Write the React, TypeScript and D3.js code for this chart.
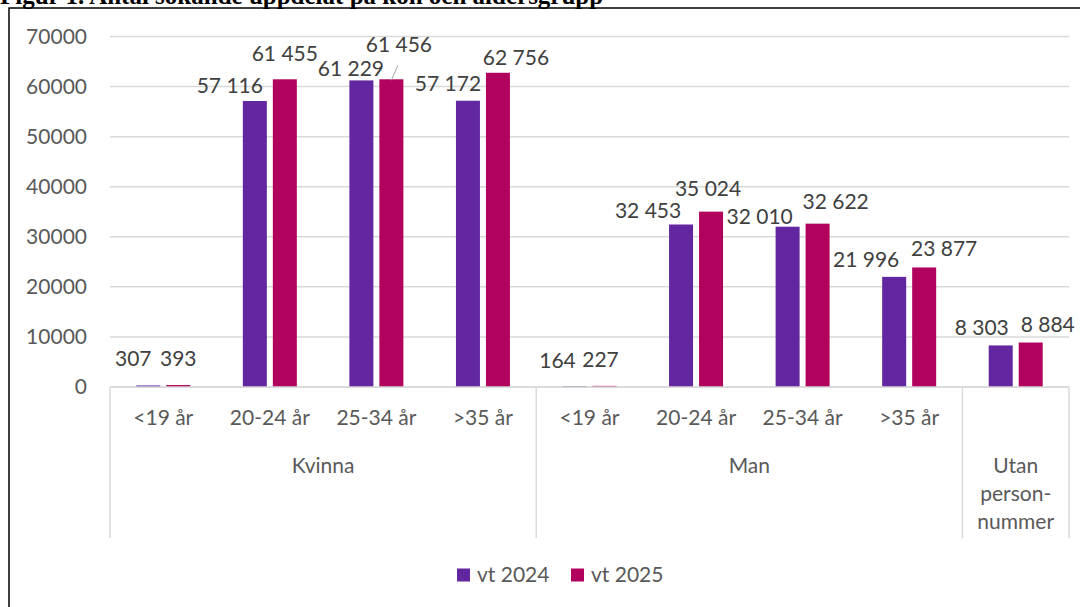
import React from 'react';
import * as d3 from 'd3';

const title = 'Figur 1. Antal sökande uppdelat på kön och åldersgrupp';

// categories
const ageGroups = ['<19 år', '20-24 år', '25-34 år', '>35 år', '<19 år', '20-24 år', '25-34 år', '>35 år', ''];
const genderGroups = [['Kvinna'], ['Man'], ['Utan', 'person-', 'nummer']];
const genderSpans = [4, 4, 1];

// series
const seriesNames = ['vt 2024', 'vt 2025'];
const vt2024 = [307, 57116, 61229, 57172, 164, 32453, 32010, 21996, 8303];
const vt2025 = [393, 61455, 61456, 62756, 227, 35024, 32622, 23877, 8884];

const yTicks = [0, 10000, 20000, 30000, 40000, 50000, 60000, 70000];

// hand-placed data label nudges (dx, dy) like in the original
const nudge2024 = [[-15, -11.5], [-25, 0], [-10.5, 3.5], [-20, -2], [-17, -11], [-33, 1], [-28, 4.5], [-28, -2], [-19, -3]];
const nudge2025 = [[0, -11], [0, -11], [7.5, -20], [18, 0], [-4, -11], [-3, -8], [18, -7], [20, -4], [17, -2.5]];
const leaderLines = [[1, 2]]; // [series, category]

const colors = ['#6227A0', '#B1035E'];
const W = 1080;
const H = 607;
const font = 'Lato, "Open Sans", sans-serif';

const App = () => {
  const left = 110;
  const right = 1069;
  const base = 387;

  const y = d3.scaleLinear().domain([0, 70000]).range([base, 36.5]);
  const x0 = d3.scaleBand<number>().domain(d3.range(ageGroups.length)).range([left, right]);
  const x1 = d3.scaleBand<string>().domain(seriesNames).range([-27, 27]).paddingInner(0.2);

  const fmt = d3.formatLocale({ thousands: ' ', grouping: [3], decimal: ',', currency: ['', ''] }).format(',');
  const values = [vt2024, vt2025];
  const nudges = [nudge2024, nudge2025];

  const center = (i: number) => (x0(i) as number) + x0.bandwidth() / 2;
  const barCx = (s: number, i: number) => center(i) + (x1(seriesNames[s]) as number) + x1.bandwidth() / 2;

  // group boundaries
  let acc = 0;
  const groups = genderGroups.map((lines, g) => {
    const start = acc;
    acc += genderSpans[g];
    return { lines, x0: x0(start) as number, x1: (x0(acc - 1) as number) + x0.bandwidth() };
  });
  const sepBottom = 538;

  return (
    <svg width={W} height={H} style={{ position: 'absolute', left: 0, top: 0, background: '#fff' }}>
      <text x={0} y={4} fontFamily='"Liberation Serif", serif' fontWeight="bold" fontSize={25} fill="#000">{title}</text>
      <rect x={9} y={8} width={W} height={H} fill="none" stroke="#000" strokeWidth={1.5} />

      {/* gridlines */}
      {yTicks.map(t => (
        <g key={t}>
          <line x1={left} x2={right} y1={y(t)} y2={y(t)} stroke="#d9d9d9" strokeWidth={1.5} />
          <text x={87} y={y(t)} dy="0.35em" textAnchor="end" fontFamily={font} fontSize={21} fill="#595959">{t}</text>
        </g>
      ))}

      {/* bars */}
      {values.map((vals, s) => vals.map((v, i) => (
        <rect key={`${s}-${i}`} x={barCx(s, i) - x1.bandwidth() / 2} y={y(v)} width={x1.bandwidth()}
          height={base - y(v)} fill={colors[s]} />
      )))}

      {/* leader lines */}
      {leaderLines.map(([s, i]) => {
        const v = values[s][i];
        const lx = barCx(s, i) + nudges[s][i][0];
        const ly = y(v) - 15 + nudges[s][i][1];
        return <line key={`l${s}${i}`} x1={lx - 1} y1={ly + 21} x2={barCx(s, i)} y2={y(v) + 1} stroke="#a6a6a6" strokeWidth={1} />;
      })}

      {/* data labels */}
      {values.map((vals, s) => vals.map((v, i) => (
        <text key={`t${s}-${i}`} x={barCx(s, i) + nudges[s][i][0]} y={y(v) - 15 + nudges[s][i][1]} dy="0.35em"
          textAnchor="middle" fontFamily={font} fontSize={21} fill="#404040">{fmt(v)}</text>
      )))}

      {/* category axis */}
      <line x1={left} x2={right} y1={base} y2={base} stroke="#d9d9d9" strokeWidth={1.5} />
      {[groups[0].x0, ...groups.map(g => g.x1)].map((gx, k) => (
        <line key={`s${k}`} x1={gx} x2={gx} y1={base} y2={sepBottom} stroke="#d9d9d9" strokeWidth={1.5} />
      ))}
      {ageGroups.map((a, i) => (
        <text key={`a${i}`} x={center(i)} y={418} dy="0.35em" textAnchor="middle" fontFamily={font} fontSize={21} fill="#595959">{a}</text>
      ))}
      {groups.map((g, k) => g.lines.map((ln, j) => (
        <text key={`g${k}${j}`} x={(g.x0 + g.x1) / 2} y={466 + j * 28} dy="0.35em" textAnchor="middle"
          fontFamily={font} fontSize={21} fill="#595959">{ln}</text>
      )))}

      {/* legend */}
      {seriesNames.map((n, s) => {
        const lx = s === 0 ? 457 : 571;
        return (
          <g key={n}>
            <rect x={lx} y={568.5} width={13} height={13} fill={colors[s]} />
            <text x={lx + 20} y={575} dy="0.35em" fontFamily={font} fontSize={21} fill="#595959">{n}</text>
          </g>
        );
      })}
    </svg>
  );
};

export default App;
